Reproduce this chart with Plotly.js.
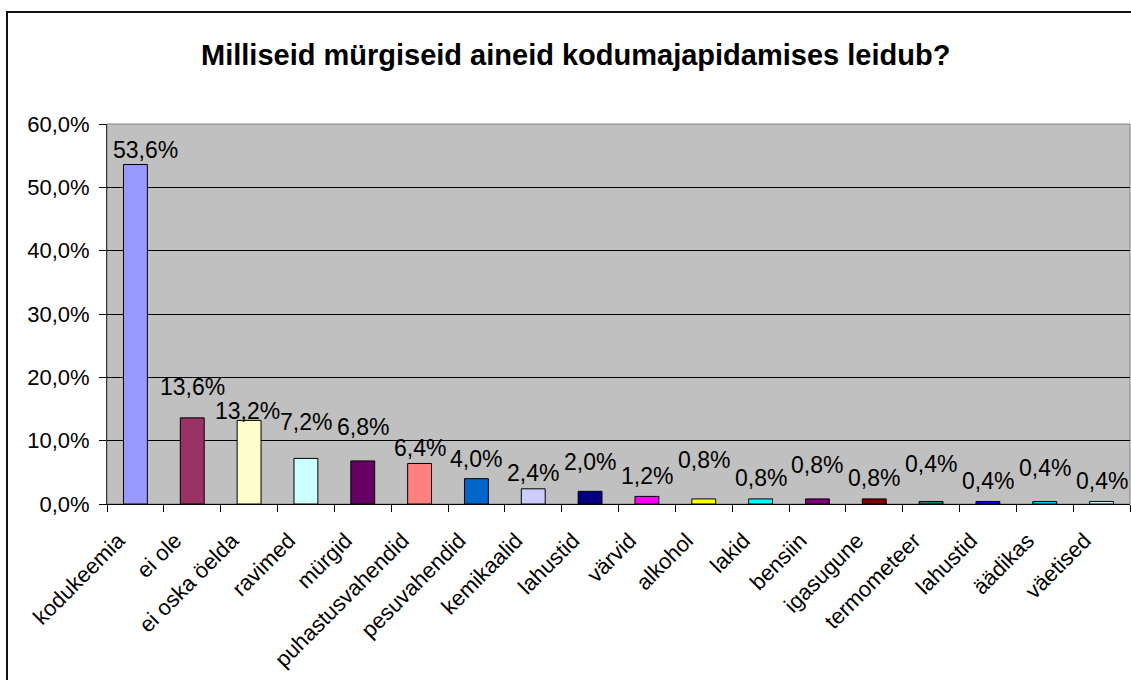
<!DOCTYPE html>
<html>
<head>
<meta charset="utf-8">
<script src="https://cdn.plot.ly/plotly-3.0.1.min.js"></script>
<style>
  html, body { margin: 0; padding: 0; background: #fff; }
  #wrap { position: relative; width: 1131px; height: 680px; overflow: hidden; }
  #chart { position: absolute; left: 0; top: 0; width: 1131px; height: 680px; }
  #frame { position: absolute; left: 6px; top: 11px; width: 1200px; height: 800px;
           border-left: 2px solid #111; border-top: 2px solid #111; pointer-events: none; }
</style>
</head>
<body>
<div id="wrap"><div id="chart"></div><div id="frame"></div></div>
<script>
// ---- data ----
const chartTitle = "Milliseid mürgiseid aineid kodumajapidamises leidub?";
const categories = ["kodukeemia", "ei ole", "ei oska öelda", "ravimed", "mürgid",
  "puhastusvahendid", "pesuvahendid", "kemikaalid", "lahustid", "värvid", "alkohol",
  "lakid", "bensiin", "igasugune", "termometeer", "lahustid", "äädikas", "väetised"];
const values = [53.6, 13.6, 13.2, 7.2, 6.8, 6.4, 4.0, 2.4, 2.0, 1.2, 0.8, 0.8, 0.8, 0.8, 0.4, 0.4, 0.4, 0.4];
const yTickValues = [0, 10, 20, 30, 40, 50, 60];

// ---- styling ----
const barColors = ["#9999FF", "#993366", "#FFFFCC", "#CCFFFF", "#660066", "#FF8080",
  "#0066CC", "#CCCCFF", "#000080", "#FF00FF", "#FFFF00", "#00FFFF", "#800080",
  "#800000", "#008080", "#0000FF", "#00CCFF", "#CCFFFF"];
// vertical offset (px) of each value label's centre above its bar top (Excel staggering)
const labelLift = [15, 31, 9, 36, 34, 15, 20, 16, 29, 20, 39, 21, 34, 21, 37, 20, 33, 20];
const labelNudgeX = [10, 0, -2, 0, 0, 0, 0, 0, 0, 0, 0, 0, 0, 0, 0, 0, 0, 0];

const FONT = "'Liberation Sans', Arial, sans-serif";
const idx = categories.map((_, i) => i);
const fmt = v => v.toFixed(1).replace('.', ',') + '%';

const traces = [
  {
    type: 'bar', x: idx, y: values, width: 0.42,
    marker: { color: barColors, line: { color: '#000', width: 1 } },
    hoverinfo: 'skip', showlegend: false
  },
  { type: 'scatter', x: [], y: [], xaxis: 'x2', yaxis: 'y', showlegend: false, hoverinfo: 'skip' }
];

const annotations = values.map((v, i) => ({
  x: i, y: v, xref: 'x', yref: 'y', text: fmt(v), showarrow: false,
  xanchor: 'center', yanchor: 'middle', yshift: labelLift[i], xshift: labelNudgeX[i],
  font: { family: FONT, size: 23, color: '#000' }
}));

const layout = {
  width: 1131, height: 680,
  margin: { l: 107, r: 1, t: 124, b: 176, pad: 0 },
  paper_bgcolor: '#FFFFFF', plot_bgcolor: '#C0C0C0',
  separators: ', ',
  font: { family: FONT, color: '#000' },
  title: {
    text: '<b>' + chartTitle + '</b>', font: { family: FONT, size: 29, color: '#000' },
    xref: 'container', yref: 'container', x: 0.509, y: 1 - 55 / 680,
    xanchor: 'center', yanchor: 'middle'
  },
  xaxis: {
    range: [-0.5, categories.length - 0.5], tickmode: 'array', tickvals: idx, ticktext: categories,
    tickangle: -45, ticks: '', showgrid: false, zeroline: false,
    ticklabelstandoff: 14, ticklabelshift: -17,
    showline: true, linecolor: '#000', linewidth: 1,
    tickfont: { family: FONT, size: 22, color: '#000' }, fixedrange: true
  },
  xaxis2: {
    overlaying: 'x', anchor: 'y', side: 'bottom', range: [-0.5, categories.length - 0.5],
    tickmode: 'linear', tick0: -0.5, dtick: 1, ticks: 'outside', ticklen: 7, tickcolor: '#000',
    tickwidth: 1, showticklabels: false, showgrid: false, zeroline: false, showline: false
  },
  yaxis: {
    range: [0, 60], tickmode: 'array', tickvals: yTickValues, ticktext: yTickValues.map(fmt),
    ticks: 'outside', ticklen: 7, tickcolor: '#000', ticklabelstandoff: 5,
    showgrid: true, gridcolor: '#000', gridwidth: 1, zeroline: false,
    showline: true, linecolor: '#333', linewidth: 1,
    tickfont: { family: FONT, size: 22, color: '#000' }, fixedrange: true
  },
  shapes: [{
    type: 'rect', xref: 'paper', yref: 'paper', x0: 0, x1: 1, y0: 0, y1: 1,
    line: { color: '#808080', width: 1 }, layer: 'below'
  }],
  annotations: annotations,
  bargap: 0.58
};

Plotly.newPlot('chart', traces, layout, { displayModeBar: false, staticPlot: true });
</script>
</body>
</html>
